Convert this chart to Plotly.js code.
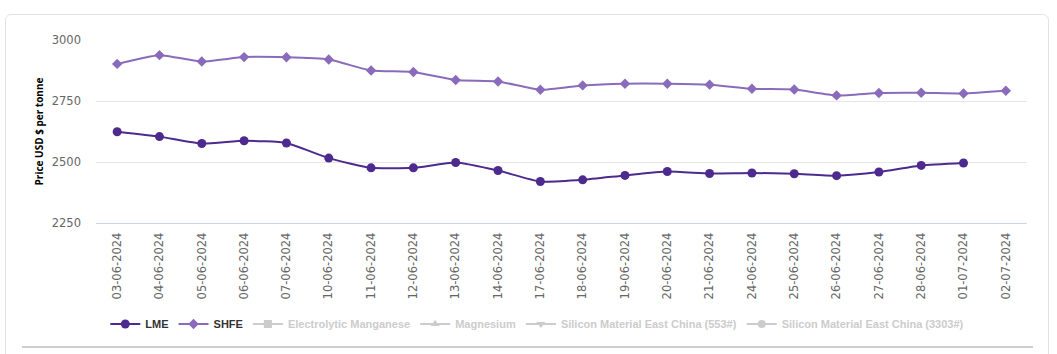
<!DOCTYPE html>
<html>
<head>
<meta charset="utf-8">
<script src="https://cdn.plot.ly/plotly-3.0.1.min.js"></script>
<style>
  html, body { margin: 0; padding: 0; background: #ffffff; }
  #wrap { position: relative; width: 1057px; height: 354px; overflow: hidden; }
  #frame { position: absolute; left: 5px; top: 14px; width: 1044px; height: 400px;
           border: 1px solid #e3e3e3; border-radius: 6px; box-sizing: border-box; pointer-events: none; }
  #rule { position: absolute; left: 22px; top: 346px; width: 1011px; height: 0;
          border-top: 2px solid #cfcfcf; pointer-events: none; }
  #chart { position: absolute; left: 0; top: 0; width: 1057px; height: 354px; }
</style>
</head>
<body>
<div id="wrap">
  <div id="frame"></div>
  <div id="rule"></div>
  <div id="chart"></div>
</div>
<script>
const dates = ["03-06-2024","04-06-2024","05-06-2024","06-06-2024","07-06-2024","10-06-2024",
  "11-06-2024","12-06-2024","13-06-2024","14-06-2024","17-06-2024","18-06-2024","19-06-2024",
  "20-06-2024","21-06-2024","24-06-2024","25-06-2024","26-06-2024","27-06-2024","28-06-2024",
  "01-07-2024","02-07-2024"];

const lme = [2624, 2604, 2576, 2587, 2578, 2516, 2476, 2476, 2498, 2465, 2420, 2427, 2445,
  2461, 2453, 2455, 2452, 2444, 2459, 2486, 2496, null];

const shfe = [2902, 2938, 2912, 2930, 2929, 2920, 2875, 2869, 2836, 2830, 2796, 2814, 2821,
  2821, 2817, 2800, 2797, 2773, 2783, 2784, 2781, 2792];

const hiddenSeries = ["Electrolytic Manganese", "Magnesium",
  "Silicon Material East China (553#)", "Silicon Material East China (3303#)"];
const hiddenSymbols = ["square", "triangle-up", "triangle-down", "circle"];

const yTicks = [2250, 2500, 2750, 3000];
const yTitle = "Price USD $ per tonne";

const traces = [
  { type: "scatter", mode: "lines+markers", name: "LME", x: dates, y: lme,
    line: { color: "#4d2a8e", width: 2, shape: "spline", smoothing: 0.5 },
    marker: { symbol: "circle", size: 9, color: "#4d2a8e" }, connectgaps: false },
  { type: "scatter", mode: "lines+markers", name: "SHFE", x: dates, y: shfe,
    line: { color: "#8a6bbb", width: 2, shape: "spline", smoothing: 0.5 },
    marker: { symbol: "diamond", size: 8, color: "#8a6bbb" } }
];
hiddenSeries.forEach((n, i) => {
  traces.push({ type: "scatter", mode: "lines+markers",
    name: '<span style="color:#cccccc">' + n + '</span>',
    x: [dates[0]], y: [null],
    line: { color: "#cccccc", width: 2 },
    marker: { symbol: hiddenSymbols[i], size: 8, color: "#cccccc" } });
});

const layout = {
  width: 1057, height: 354,
  margin: { l: 96, r: 30, t: 40, b: 131 },
  paper_bgcolor: "rgba(0,0,0,0)", plot_bgcolor: "rgba(0,0,0,0)",
  showlegend: true,
  legend: { orientation: "h", x: 0.01, xanchor: "left", yref: "paper", y: -0.552, yanchor: "middle",
    font: { family: "Liberation Sans, Arial, sans-serif", size: 11, color: "#333333", weight: "bold" },
    itemwidth: 30, tracegroupgap: 0, bgcolor: "rgba(0,0,0,0)" },
  xaxis: { type: "category", range: [-0.5, 21.5], tickangle: -90, ticks: "",
    automargin: false, ticklabelstandoff: 4,
    showgrid: false, showline: true, linecolor: "#ccd6eb", linewidth: 1,
    tickfont: { family: "DejaVu Sans, sans-serif", size: 11.5, color: "#666666" },
    zeroline: false, fixedrange: true },
  yaxis: { range: [2250, 3000], tickvals: yTicks, ticktext: yTicks.map(String), ticks: "",
    automargin: false,
    showgrid: true, gridcolor: "#e6e6e6", gridwidth: 1, zeroline: false, showline: false,
    ticklabelstandoff: 14,
    tickfont: { family: "DejaVu Sans, sans-serif", size: 11.5, color: "#666666" },
    title: { text: yTitle, standoff: 6,
      font: { family: "Open Sans, sans-serif", size: 10, color: "#000000", weight: "bold" } },
    fixedrange: true },
  hovermode: false
};

Plotly.newPlot("chart", traces, layout, { displayModeBar: false, staticPlot: true });
</script>
</body>
</html>
